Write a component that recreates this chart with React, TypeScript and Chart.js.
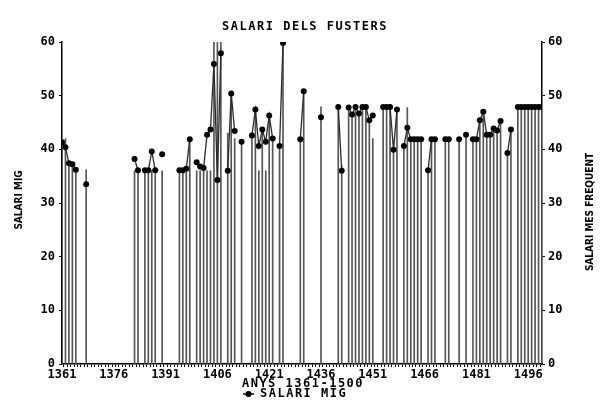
import React, { useEffect, useRef } from 'react';
import { Chart, registerables } from 'chart.js';

Chart.register(...registerables);

const TITLE = 'SALARI DELS FUSTERS';
const X_TITLE = 'ANYS 1361-1500';
const Y_TITLE = 'SALARI MIG';
const Y2_TITLE = 'SALARI MES FREQUENT';
const LEGEND_LABEL = 'SALARI MIG';
const X_MIN = 1361;
const X_MAX = 1500;
const X_TICK_LABELS = [1361, 1376, 1391, 1406, 1421, 1436, 1451, 1466, 1481, 1496];
const Y_MIN = 0;
const Y_MAX = 60;
const Y_STEP = 10;

// SALARI MIG (mean wage) — null entries break the line
const meanYears = [
  1361, 1362, 1363, 1364, 1365, 1366, 1368, 1369,
  1382, 1383, 1384, 1385, 1386, 1387, 1388, 1389, 1390, 1391,
  1395, 1396, 1397, 1398, 1399, 1400, 1401, 1402, 1403, 1404, 1405, 1406, 1407, 1408,
  1409, 1410, 1411, 1412, 1413, 1414,
  1416, 1417, 1418, 1419, 1420, 1421, 1422, 1423, 1424, 1425, 1426,
  1430, 1431, 1432, 1436, 1437, 1441, 1442, 1443,
  1444, 1445, 1446, 1447, 1448, 1449, 1450, 1451, 1452,
  1454, 1455, 1456, 1457, 1458, 1459,
  1460, 1461, 1462, 1463, 1464, 1465, 1466, 1467, 1468, 1469, 1470,
  1472, 1473, 1474, 1476, 1477, 1478, 1479,
  1480, 1481, 1482, 1483, 1484, 1485, 1486, 1487, 1488, 1489,
  1490, 1491, 1492, 1493, 1494, 1495, 1496, 1497, 1498, 1499, 1500,
];
const meanValues = [
  41.3, 40.4, 37.4, 37.2, 36.2, null, 33.5, null,
  38.2, 36.1, null, 36.1, 36.1, 39.6, 36.1, null, 39.1, null,
  36.1, 36.1, 36.4, 41.9, null, 37.6, 36.8, 36.5, 42.7, 43.7, 55.9, 34.3, 57.9, null,
  36.0, 50.4, 43.4, null, 41.4, null,
  42.6, 47.4, 40.6, 43.7, 41.4, 46.3, 42.0, null, 40.6, 59.8, null,
  41.9, 50.8, null, 46.0, null, 47.9, 36.0, null,
  47.8, 46.5, 47.9, 46.7, 47.9, 47.9, 45.4, 46.3, null,
  47.9, 47.9, 47.9, 39.9, 47.4, null,
  40.6, 44.0, 41.9, 41.9, 41.9, 41.9, null, 36.1, 41.9, 41.9, null,
  41.9, 41.9, null, 41.9, null, 42.7, null,
  41.9, 41.9, 45.4, 47.0, 42.7, 42.7, 43.9, 43.5, 45.3, null,
  39.3, 43.7, null, 47.9, 47.9, 47.9, 47.9, 47.9, 47.9, 47.9, 47.9,
];

// SALARI MES FREQUENT (most frequent wage) — vertical lines, right axis
const freqYears = [
  1361, 1362, 1363, 1364, 1365, 1368,
  1382, 1383, 1385, 1386, 1387, 1388, 1390,
  1395, 1396, 1397, 1398, 1400, 1401, 1402, 1403, 1404, 1405, 1406, 1407,
  1409, 1410, 1411, 1413, 1416, 1417, 1418, 1419, 1420, 1421, 1422, 1424, 1425,
  1430, 1431, 1436, 1441, 1442, 1444, 1445, 1446, 1447, 1448, 1449, 1450, 1451,
  1454, 1455, 1456, 1457, 1458, 1460, 1461, 1462, 1463, 1464, 1465, 1467, 1468, 1469,
  1472, 1473, 1476, 1478, 1480, 1481, 1482, 1483, 1484, 1485, 1486, 1487, 1488,
  1490, 1491, 1493, 1494, 1495, 1496, 1497, 1498, 1499, 1500,
];
const freqValues = [
  41.0, 42.0, 37.4, 37.3, 36.2, 36.2,
  36.0, 36.0, 36.0, 36.0, 36.0, 36.0, 36.0,
  36.0, 36.0, 36.0, 41.9, 36.0, 36.0, 36.0, 36.0, 36.0, 60.0, 60.0, 60.0,
  43.0, 50.4, 42.0, 41.4, 42.6, 47.4, 36.0, 43.7, 36.0, 46.3, 42.0, 40.6, 60.0,
  41.9, 50.8, 47.9, 47.9, 37.0, 47.8, 46.5, 47.9, 46.7, 47.9, 47.9, 45.4, 42.0,
  47.9, 47.9, 47.9, 39.9, 47.4, 40.6, 47.8, 41.9, 41.9, 41.9, 41.9, 36.1, 41.9, 41.9,
  41.9, 41.9, 41.9, 42.6, 41.9, 41.9, 45.4, 47.0, 42.7, 42.7, 43.9, 43.5, 45.3,
  39.3, 43.7, 47.9, 47.9, 47.9, 47.9, 47.9, 47.9, 47.9, 47.9,
];

const MONO = '"DejaVu Sans Mono", monospace';
const NARROW = '"Liberation Sans Narrow", "DejaVu Sans Condensed", "Liberation Sans", sans-serif';

const textPlugin = {
  id: 'scanTexts',
  beforeDraw(chart: any) {
    const { ctx, width, height } = chart;
    ctx.save();
    ctx.fillStyle = '#fff';
    ctx.fillRect(0, 0, width, height);
    ctx.restore();
  },
  afterDraw(chart: any) {
    const { ctx } = chart;
    ctx.save();
    ctx.fillStyle = '#000';
    ctx.textAlign = 'center';
    ctx.textBaseline = 'middle';
    (ctx as any).letterSpacing = '1.5px';
    ctx.font = `bold 12px ${MONO}`;
    ctx.fillText(TITLE, 305, 27);
    ctx.fillText(X_TITLE, 303, 384);
    ctx.textAlign = 'left';
    ctx.fillText(LEGEND_LABEL, 260, 394);
    // legend marker
    ctx.strokeStyle = '#000';
    ctx.lineWidth = 1.5;
    ctx.beginPath();
    ctx.moveTo(243, 394);
    ctx.lineTo(254, 394);
    ctx.stroke();
    ctx.beginPath();
    ctx.arc(248.5, 394, 3, 0, Math.PI * 2);
    ctx.fill();
    // axis titles (both read bottom to top)
    (ctx as any).letterSpacing = '0px';
    ctx.font = `bold 10px ${NARROW}`;
    ctx.textAlign = 'center';
    ctx.save();
    ctx.translate(19, 200);
    ctx.rotate(-Math.PI / 2);
    ctx.fillText(Y_TITLE, 0, 0);
    ctx.restore();
    ctx.save();
    ctx.translate(590, 212);
    ctx.rotate(-Math.PI / 2);
    ctx.fillText(Y2_TITLE, 0, 0);
    ctx.restore();
    ctx.restore();
  },
};

export default function App() {
  const ref = useRef<HTMLCanvasElement | null>(null);

  useEffect(() => {
    if (!ref.current) return;
    const tickFont = { family: MONO, size: 12, weight: 'bold' as const };
    const chart = new Chart(ref.current, {
      type: 'bar',
      data: {
        datasets: [
          {
            type: 'line',
            label: LEGEND_LABEL,
            data: meanYears.map((x, i) => ({ x, y: meanValues[i] })) as any,
            yAxisID: 'y',
            borderColor: '#2a2a2a',
            borderWidth: 1.3,
            pointRadius: 3,
            pointBackgroundColor: '#000',
            pointBorderColor: '#000',
            pointBorderWidth: 0,
            spanGaps: false,
            tension: 0,
            order: 1,
          } as any,
          {
            type: 'bar',
            label: Y2_TITLE,
            data: freqYears.map((x, i) => ({ x, y: freqValues[i] })) as any,
            yAxisID: 'y2',
            backgroundColor: '#555',
            barThickness: 1,
            order: 2,
          } as any,
        ],
      },
      options: {
        animation: false,
        responsive: false,
        layout: { padding: { top: 42, left: 0, right: 0, bottom: 0 } },
        plugins: { legend: { display: false }, tooltip: { enabled: false }, title: { display: false } },
        scales: {
          x: {
            type: 'linear',
            min: X_MIN,
            max: X_MAX,
            offset: false,
            grid: { display: true, drawOnChartArea: false, tickLength: 3, color: '#000', lineWidth: 1 },
            border: { display: true, color: '#000', width: 1.5 },
            ticks: {
              stepSize: 1,
              autoSkip: false,
              maxRotation: 0,
              minRotation: 0,
              padding: 1,
              color: '#000',
              font: tickFont,
              callback: (v: any) => (X_TICK_LABELS.includes(Number(v)) ? String(v) : ''),
            },
            afterFit: (s: any) => {
              s.height = 52;
            },
          } as any,
          y: {
            type: 'linear',
            position: 'left',
            min: Y_MIN,
            max: Y_MAX,
            grid: { drawOnChartArea: false, tickLength: 3, color: '#000' },
            border: { display: true, color: '#000', width: 1.5 },
            ticks: { stepSize: Y_STEP, padding: 4, color: '#000', font: tickFont },
            afterFit: (s: any) => {
              s.width = 62;
            },
          } as any,
          y2: {
            type: 'linear',
            position: 'right',
            min: Y_MIN,
            max: Y_MAX,
            grid: { drawOnChartArea: false, tickLength: 3, color: '#000' },
            border: { display: true, color: '#000', width: 1.5 },
            ticks: { stepSize: Y_STEP, padding: 3, color: '#000', font: tickFont },
            afterFit: (s: any) => {
              s.width = 65;
            },
          } as any,
        },
      },
      plugins: [textPlugin],
    });
    return () => chart.destroy();
  }, []);

  return (
    <div style={{ position: 'fixed', left: 0, top: 0, width: 607, height: 416, background: '#fff' }}>
      <canvas ref={ref} width={607} height={416} style={{ display: 'block', width: 607, height: 416 }} />
    </div>
  );
}
